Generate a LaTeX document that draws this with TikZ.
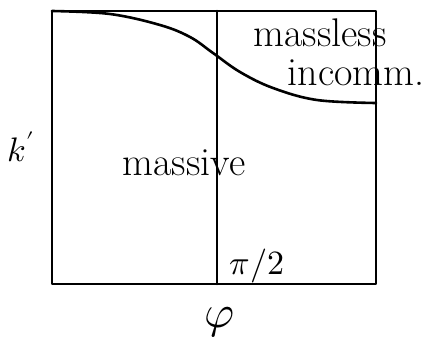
\documentclass[tikz,border=0pt]{standalone}
\usepackage{amsmath,unicode-math}
\usetikzlibrary{positioning}

\begin{document}
\begin{tikzpicture}[x=1pt,y=-1pt,line cap=round,line join=round,every node/.style={font=\fontsize{40}{44}\selectfont,inner sep=0pt},sym/.style={font=\fontsize{34}{38}\selectfont},big/.style={font=\fontsize{46}{50}\selectfont},edge/.style={line width=2.6pt}]
\useasboundingbox (0,0) rectangle (435,345);
% frame and the line at pi/2
\coordinate (tl) at (52,11);
\coordinate (tr) at (376,11);
\coordinate (bl) at (52,284);
\coordinate (br) at (376,284);
\coordinate (mt) at (217,11);
\coordinate (mb) at (217,284);
\draw[edge] (tl) -- (tr) -- (br) -- (bl) -- cycle;
\draw[edge] (mt) -- (mb);
% phase boundary
\draw[edge] plot[smooth,tension=0.6] coordinates {(52,11) (110,14) (160,25) (190,37) (213,53) (240,72) (273,88) (317,100) (376,103)};
\node (massless) at (320,33) {massless};
\node (incomm) at (356,73) {incomm.};
\node (massive) at (184,163) {massive};
\node[sym] (kp) at (21,147) {$k'$};
\node[sym] (pihalf) at (257,266) {$\pi/2$};
\node[big] (phi) at (220,322) {$\varphi$};
\end{tikzpicture}
\end{document}
